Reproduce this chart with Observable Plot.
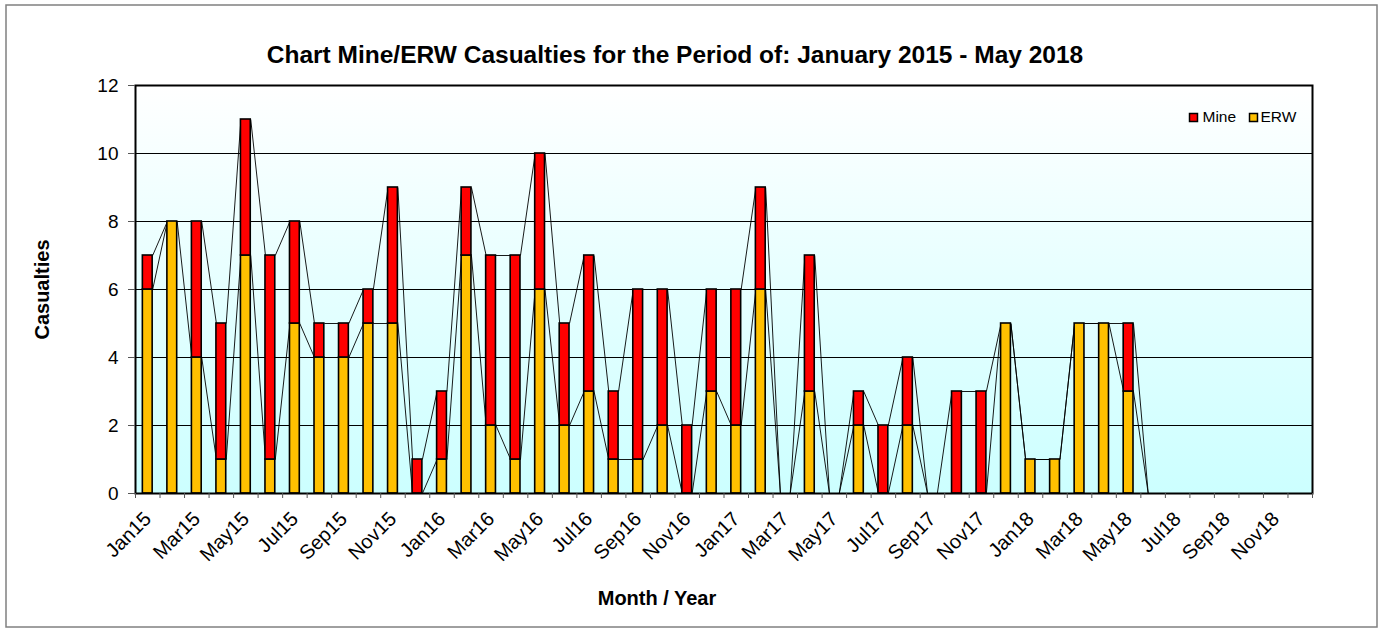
<!DOCTYPE html>
<html>
<head>
<meta charset="utf-8">
<script src="https://cdn.jsdelivr.net/npm/d3@7"></script>
<script src="https://cdn.jsdelivr.net/npm/@observablehq/plot@0.6"></script>
<style>
  html, body { margin: 0; padding: 0; background: #fff; }
  #chart { width: 1386px; height: 631px; }
</style>
</head>
<body>
<div id="chart"></div>
<script>
const months = [
  "Jan15","Feb15","Mar15","Apr15","May15","Jun15","Jul15","Aug15","Sep15","Oct15","Nov15","Dec15",
  "Jan16","Feb16","Mar16","Apr16","May16","Jun16","Jul16","Aug16","Sep16","Oct16","Nov16","Dec16",
  "Jan17","Feb17","Mar17","Apr17","May17","Jun17","Jul17","Aug17","Sep17","Oct17","Nov17","Dec17",
  "Jan18","Feb18","Mar18","Apr18","May18","Jun18","Jul18","Aug18","Sep18","Oct18","Nov18","Dec18"
];
const erw = [
  6,8,4,1,7,1,5,4,4,5,5,0,
  1,7,2,1,6,2,3,1,1,2,0,3,
  2,6,0,3,0,2,0,2,0,0,0,5,
  1,1,5,5,3,0,null,null,null,null,null,null
];
const mine = [
  1,0,4,4,4,6,3,1,1,1,4,1,
  2,2,5,6,4,3,4,2,5,4,2,3,
  4,3,0,4,0,1,2,2,0,3,3,0,
  0,0,0,0,2,0,null,null,null,null,null,null
];
const seriesNames = ["Mine", "ERW"];
const seriesColors = ["#FF0000", "#FFC000"];
const yTicks = [0, 2, 4, 6, 8, 10, 12];
const titleText = "Chart Mine/ERW Casualties for the Period of: January 2015 - May 2018";
const xLabel = "Month / Year";
const yLabel = "Casualties";

const FONT = "Arial, 'Liberation Sans', sans-serif";
const BW = 0.40; // bar width as a fraction of a month slot

const segments = [];
months.forEach((m, i) => {
  if (erw[i] == null) return;
  const e = erw[i], t = erw[i] + mine[i];
  if (e > 0) segments.push({i, series: "ERW", y1: 0, y2: e});
  if (mine[i] > 0) segments.push({i, series: "Mine", y1: e, y2: t});
});

const links = [];
for (let i = 0; i + 1 < months.length; i++) {
  if (erw[i] == null || erw[i + 1] == null) continue;
  links.push({x1: i + BW / 2, x2: i + 1 - BW / 2, y1: erw[i], y2: erw[i + 1]});
  links.push({x1: i + BW / 2, x2: i + 1 - BW / 2, y1: erw[i] + mine[i], y2: erw[i + 1] + mine[i + 1]});
}

function background(index, scales, values, dims) {
  const ns = "http://www.w3.org/2000/svg";
  const g = document.createElementNS(ns, "g");
  const w = dims.width - dims.marginLeft - dims.marginRight;
  const h = dims.height - dims.marginTop - dims.marginBottom;
  g.innerHTML = `<defs><linearGradient id="bgGrad" x1="0" y1="0" x2="0" y2="1">
    <stop offset="0" stop-color="#ffffff"/><stop offset="1" stop-color="#ccffff"/></linearGradient></defs>
    <rect x="${dims.marginLeft}" y="${dims.marginTop}" width="${w}" height="${h}" fill="url(#bgGrad)"/>`;
  return g;
}

const colorOf = s => seriesColors[seriesNames.indexOf(s)];

function placeAt(offs, sel) {
  return (index, scales, values, dims, context, next) => {
    const g = next(index, scales, values, dims, context);
    d3.select(g).selectAll(sel).attr("transform", (d, k) =>
      `translate(${dims.width - dims.marginRight + offs[k]},${dims.marginTop + 32})`);
    return g;
  };
}

const plot = Plot.plot({
  width: 1386,
  height: 631,
  marginLeft: 135,
  marginRight: 74,
  marginTop: 85,
  marginBottom: 138,
  style: {fontFamily: FONT, fontSize: "16px", background: "#fff", color: "#000"},
  x: {type: "linear", domain: [-0.5, months.length - 0.5], axis: null},
  y: {domain: [0, 12], axis: null},
  marks: [
    background,
    Plot.ruleY(yTicks.filter(d => d > 0 && d < 12), {stroke: "#000", strokeWidth: 1}),
    Plot.link(links, {x1: "x1", y1: "y1", x2: "x2", y2: "y2", stroke: "#000", strokeWidth: 0.9}),
    Plot.rectY(segments, {
      x1: d => d.i - BW / 2, x2: d => d.i + BW / 2, y1: "y1", y2: "y2",
      fill: d => colorOf(d.series), stroke: "#000", strokeWidth: 1.6
    }),
    Plot.frame({stroke: "#000", strokeWidth: 2}),
    Plot.axisY({ticks: yTicks, tickSize: 7, tickPadding: 10, fontSize: 19, label: null, stroke: "#555"}),
    Plot.axisX({ticks: d3.range(-0.5, months.length, 1), tickSize: 5, tickFormat: () => "", label: null, stroke: "#555"}),
    Plot.axisX({ticks: d3.range(0, months.length, 2), tickSize: 0, tickPadding: 22, tickRotate: -45,
      tickFormat: i => months[i], fontSize: 20, label: null}),
    Plot.text([titleText], {frameAnchor: "top", dx: -49, dy: -40, fontSize: 24.5, fontWeight: "bold", text: d => d}),
    Plot.text([xLabel], {frameAnchor: "bottom", dx: -67, dy: 111, fontSize: 20, fontWeight: "bold", text: d => d}),
    Plot.text([yLabel], {frameAnchor: "left", dx: -93, rotate: -90, textAnchor: "middle", fontSize: 20, fontWeight: "bold", text: d => d}),
    Plot.dot(seriesNames, {frameAnchor: "top-right", symbol: "square", r: 4.5,
      fill: d => colorOf(d), stroke: "#000", strokeWidth: 1.5, render: placeAt([-119, -59], "path")}),
    Plot.text(seriesNames, {frameAnchor: "top-right", text: d => d, textAnchor: "start", lineAnchor: "middle", fontSize: 15.5,
      render: placeAt([-110, -52], "text")})
  ]
});

d3.select(plot).append("rect")
  .attr("x", 6).attr("y", 5).attr("width", 1371).attr("height", 622)
  .attr("fill", "none").attr("stroke", "#808080").attr("stroke-width", 1.5);

document.getElementById("chart").appendChild(plot);
</script>
</body>
</html>
